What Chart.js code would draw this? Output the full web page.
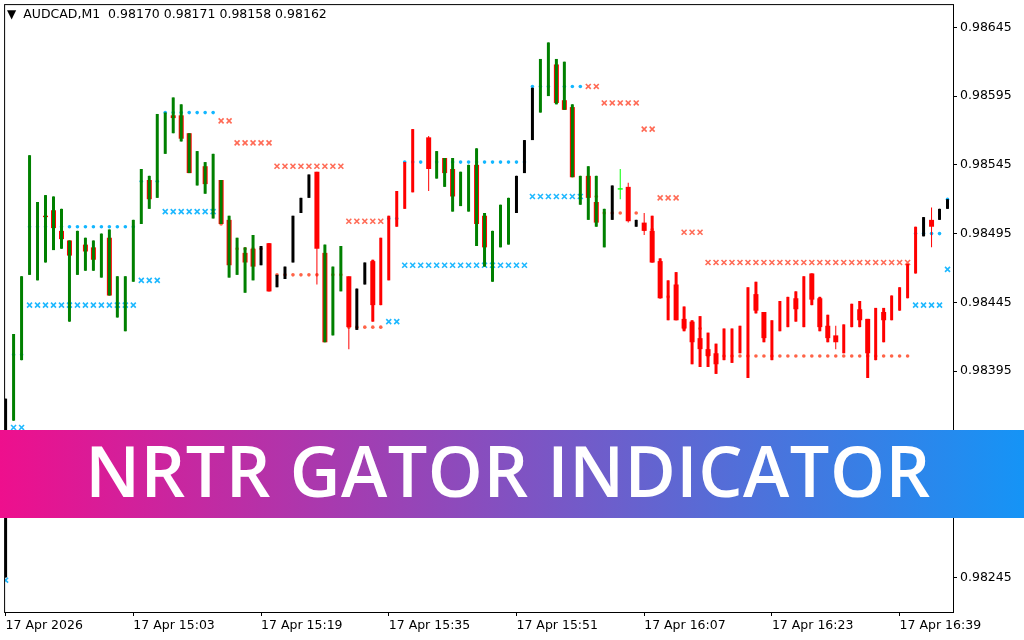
<!DOCTYPE html>
<html lang="en">
<head>
<meta charset="UTF-8">
<title>NRTR Gator Indicator - AUDCAD M1</title>
<script src="https://cdn.jsdelivr.net/npm/chart.js"></script>
<style>
  body { margin: 0; background: #fff; }
  #wrap { position: relative; width: 1024px; height: 640px; overflow: hidden; }
  #header {
    position: absolute; left: 7px; top: 6px;
    font: 12.5px 'DejaVu Sans', sans-serif; color: #000; white-space: pre;
  }
  #header .tri { font-size: 12px; margin-right: 7px; }
  #banner {
    position: absolute; left: 0; top: 430px; width: 1024px; height: 88px;
    box-sizing: border-box; padding-right: 8px;
    background: linear-gradient(90deg, #ee0f8d 0%, #1594f6 100%);
    color: #fff; font: 600 70px 'Open Sans', sans-serif;
    text-align: center; line-height: 80px; letter-spacing: 0.5px;
  }
</style>
</head>
<body>
<div id="wrap">
  <canvas id="chart" width="1024" height="640"></canvas>
  <div id="header"><span class="tri">▼</span>AUDCAD,M1  0.98170 0.98171 0.98158 0.98162</div>
  <div id="banner">NRTR GATOR INDICATOR</div>
</div>
<script>
// one M1 bar per index, 14:47 .. 16:45
const barColors = [
  'K',
  'G','G','G','G','G','G','G','G','G','G','G','G','G','G','G','G','G','G','G','G',
  'G','G','G','G','G','G','G','G','G','G','G',
  'K','R','K','K','K','K','K','R','G','G','G','R','K','K',
  'R','R','R','R','R','R','-','R',
  'G','G','G','G','G','G','G','G','G','G',
  'K','K','K',
  'G','G','G','G','G','G','G','G','G',
  'K','L','R','K',
  'R','R','R','R','R','R','R','R','R','R','R','R','R','R','R','R','R','R','R','R',
  'R','R','R','R','R','R','R','R','R','R','R','R','R','R','R',
  'K','R','K','K'
];
const highs = [
  0.98375,0.98422,0.98464,0.98552,0.98518,0.98523,0.98522,0.98513,0.98490,0.98497,
  0.98492,0.98490,0.98495,0.98498,0.98464,0.98464,0.98505,0.98542,0.98537,0.98582,
  0.98583,0.98594,0.98589,0.98568,0.98555,0.98547,0.98553,0.98534,0.98508,0.98492,
  0.98485,0.98494,0.98486,0.98488,0.98465,0.98471,0.98508,0.98521,0.98538,0.98540,
  0.98487,0.98471,0.98486,0.98464,0.98455,0.98474,0.98476,0.98492,0.98508,0.98526,
  0.98547,0.98571,null,0.98566,0.98555,0.98550,0.98550,0.98540,0.98545,0.98557,
  0.98510,0.98497,0.98516,0.98521,0.98537,0.98563,0.98601,0.98622,0.98634,0.98622,
  0.98620,0.98589,0.98537,0.98544,0.98537,0.98513,0.98530,0.98542,0.98532,0.98505,
  0.98510,0.98508,0.98477,0.98461,0.98467,0.98442,0.98432,0.98435,0.98423,0.98415,
  0.98426,0.98426,0.98428,0.98456,0.98460,0.98438,0.98432,0.98446,0.98449,0.98453,
  0.98464,0.98466,0.98449,0.98436,0.98428,0.98429,0.98444,0.98446,0.98433,0.98441,
  0.98441,0.98450,0.98456,0.98473,0.98500,0.98507,0.98514,0.98513,0.98520
];
const lows = [
  0.98245,0.98359,0.98403,0.98465,0.98461,0.98474,0.98483,0.98484,0.98431,0.98465,
  0.98468,0.98468,0.98463,0.98450,0.98434,0.98424,0.98460,0.98502,0.98513,0.98521,
  0.98553,0.98568,0.98562,0.98539,0.98530,0.98524,0.98506,0.98502,0.98463,0.98465,
  0.98452,0.98461,0.98472,0.98453,0.98456,0.98462,0.98474,0.98510,0.98521,0.98458,
  0.98416,0.98421,0.98453,0.98411,0.98425,0.98458,0.98431,0.98443,0.98461,0.98500,
  0.98513,0.98525,null,0.98526,0.98535,0.98529,0.98511,0.98515,0.98511,0.98486,
  0.98471,0.98460,0.98485,0.98487,0.98510,0.98539,0.98563,0.98583,0.98595,0.98589,
  0.98585,0.98536,0.98516,0.98505,0.98500,0.98485,0.98505,0.98520,0.98503,0.98500,
  0.98494,0.98474,0.98448,0.98432,0.98432,0.98424,0.98400,0.98398,0.98398,0.98393,
  0.98403,0.98401,0.98408,0.98390,0.98437,0.98416,0.98403,0.98424,0.98427,0.98431,
  0.98427,0.98443,0.98424,0.98416,0.98411,0.98408,0.98427,0.98427,0.98390,0.98403,
  0.98416,0.98432,0.98439,0.98448,0.98466,0.98493,0.98485,0.98505,0.98513
];
// candle bodies that show as a wider box: [bar, top, bottom]
const bodies = [
  [5,0.98508,0.98507],[6,0.98512,0.98499],[7,0.98497,0.98491],[8,0.98490,0.98479],
  [10,0.98487,0.98482],[11,0.98485,0.98476],[13,0.98492,0.98450],[18,0.98534,0.98520],
  [21,0.98581,0.98579],[22,0.98581,0.98564],[23,0.98568,0.98539],[25,0.98544,0.98531],
  [27,0.98534,0.98502],[28,0.98505,0.98472],[30,0.98481,0.98474],[31,0.98484,0.98471],
  [33,0.98488,0.98453],[39,0.98540,0.98484],[40,0.98481,0.98416],[43,0.98464,0.98427],
  [46,0.98475,0.98443],[53,0.98565,0.98542],[55,0.98550,0.98539],[56,0.98542,0.98522],
  [59,0.98545,0.98502],[60,0.98508,0.98485],[69,0.98618,0.98590],[70,0.98592,0.98585],
  [71,0.98587,0.98536],[73,0.98537,0.98521],[74,0.98518,0.98503],[77,0.98528,0.98527],
  [78,0.98529,0.98504],[80,0.98503,0.98497],[81,0.98497,0.98474],[82,0.98475,0.98448],
  [84,0.98458,0.98432],[85,0.98433,0.98426],[86,0.98431,0.98416],[87,0.98419,0.98411],
  [88,0.98411,0.98406],[89,0.98408,0.98400],[94,0.98451,0.98439],[95,0.98438,0.98419],
  [99,0.98448,0.98440],[101,0.98466,0.98447],[102,0.98448,0.98427],[103,0.98428,0.98419],
  [104,0.98421,0.98416],[107,0.98440,0.98432],[108,0.98433,0.98408],[110,0.98438,0.98432],
  [116,0.98505,0.98500]
];
// bars that only have a thin wick + body (no thick range bar)
const thinBars = [39, 43, 53, 77, 78, 80, 104, 116];

// NRTR levels: [firstBar, lastBar, price]
const blueCrossSegs = [[0,0,0.98243],[1,2,0.98354],[3,16,0.98443],[17,19,0.98461],[20,26,0.98511],
  [48,49,0.98431],[50,65,0.98472],[66,72,0.98522],[114,117,0.98443],[118,118,0.98469]];
const blueDotSegs = [[1,2,0.98407],[3,16,0.98500],[17,19,0.98533],[20,26,0.98583],
  [48,49,0.98506],[50,65,0.98547],[66,72,0.98602],[114,117,0.98495],[118,118,0.98520]];
const redCrossSegs = [[27,28,0.98577],[29,33,0.98561],[34,42,0.98544],[43,47,0.98504],
  [73,74,0.98602],[75,79,0.98590],[80,81,0.98571],[82,84,0.98521],[85,87,0.98496],[88,113,0.98474]];
const redDotSegs = [[27,28,0.98502],[29,33,0.98484],[34,42,0.98465],[43,47,0.98427],
  [73,74,0.98522],[75,79,0.98510],[80,81,0.98498],[82,84,0.98449],[85,87,0.98426],[88,113,0.98406]];

const xTickBars = [0, 16, 32, 48, 64, 80, 96, 112];
const xTickLabels = ['17 Apr 2026','17 Apr 15:03','17 Apr 15:19','17 Apr 15:35',
  '17 Apr 15:51','17 Apr 16:07','17 Apr 16:23','17 Apr 16:39'];
const yTicks = [0.98245, 0.98295, 0.98345, 0.98395, 0.98445, 0.98495, 0.98545, 0.98595, 0.98645];

const colorMap = { G: '#008000', R: '#ff0000', K: '#000000', L: '#00ff00' };

function segPoints(segs) {
  const pts = [];
  segs.forEach(s => { for (let i = s[0]; i <= s[1]; i++) pts.push({ x: i, y: s[2] }); });
  return pts;
}

const wickData = [], wickColors = [], rangeData = [], rangeColors = [];
highs.forEach((h, i) => {
  if (h === null) return;
  const c = colorMap[barColors[i]];
  wickData.push({ x: i, y: [lows[i], h] });
  wickColors.push(c);
  if (!thinBars.includes(i)) {
    rangeData.push({ x: i, y: [lows[i], h] });
    rangeColors.push(c);
  }
});
const bodyData = bodies.map(b => ({ x: b[0], y: [b[2], b[1]] }));
const bodyColors = bodies.map(b => barColors[b[0]] === 'L' ? colorMap.L : colorMap.R);

const barBase = { type: 'bar', grouped: false, borderWidth: 0, inflateAmount: 0 };
const markBase = { type: 'line', showLine: false, pointHoverRadius: 0 };

const framePlugin = {
  id: 'frame',
  afterDraw(c) {
    const a = c.chartArea, g = c.ctx;
    g.save();
    g.strokeStyle = '#000';
    g.lineWidth = 1;
    g.strokeRect(a.left - 0.5, a.top - 0.5, a.right - a.left + 1, a.bottom - a.top + 1);
    g.restore();
  }
};

const axisFont = { family: 'DejaVu Sans', size: 12.5 };

new Chart(document.getElementById('chart'), {
  type: 'bar',
  data: {
    datasets: [
      { ...barBase, data: rangeData, backgroundColor: rangeColors, barThickness: 3, order: 1 },
      { ...barBase, data: bodyData, backgroundColor: bodyColors, barThickness: 5, order: 2 },
      { ...barBase, data: wickData, backgroundColor: wickColors, barThickness: 1, order: 3 },
      { ...markBase, data: segPoints(blueCrossSegs), pointStyle: 'crossRot', pointRadius: 3.5,
        borderColor: '#1eb8ff', pointBorderWidth: 1.6, order: 4 },
      { ...markBase, data: segPoints(redCrossSegs), pointStyle: 'crossRot', pointRadius: 3.5,
        borderColor: '#ff6a55', pointBorderWidth: 1.6, order: 4 },
      { ...markBase, data: segPoints(blueDotSegs), pointStyle: 'circle', pointRadius: 1.8,
        backgroundColor: '#12b6ff', borderColor: '#12b6ff', pointBorderWidth: 0, order: 5 },
      { ...markBase, data: segPoints(redDotSegs), pointStyle: 'circle', pointRadius: 1.8,
        backgroundColor: '#ff6347', borderColor: '#ff6347', pointBorderWidth: 0, order: 5 }
    ]
  },
  options: {
    responsive: false,
    animation: false,
    events: [],
    layout: { padding: { left: 3, top: 3, right: 0, bottom: 0 } },
    plugins: { legend: { display: false }, tooltip: { enabled: false } },
    scales: {
      x: {
        type: 'linear', min: -0.0625, max: 118.6875, offset: false,
        grid: { drawOnChartArea: false, drawTicks: true, tickLength: 4, color: '#000', offset: false },
        border: { display: false },
        ticks: {
          align: 'start', autoSkip: false, maxRotation: 0, padding: 2, color: '#000', font: axisFont,
          callback: (v, i) => xTickLabels[i]
        },
        afterBuildTicks: s => { s.ticks = xTickBars.map(v => ({ value: v })); },
        afterFit: s => { s.height = 28; s.paddingLeft = 0; s.paddingRight = 0; }
      },
      y: {
        type: 'linear', position: 'right', beginAtZero: false,
        min: 0.9821986, max: 0.9866116,
        grid: { drawOnChartArea: false, drawTicks: true, tickLength: 4, color: '#000' },
        border: { display: false },
        ticks: { padding: 3, color: '#000', font: axisFont, callback: v => v.toFixed(5) },
        afterBuildTicks: s => { s.ticks = yTicks.map(v => ({ value: v })); },
        afterFit: s => { s.width = 71; s.paddingTop = 0; s.paddingBottom = 0; }
      }
    }
  },
  plugins: [framePlugin]
});
</script>
</body>
</html>
